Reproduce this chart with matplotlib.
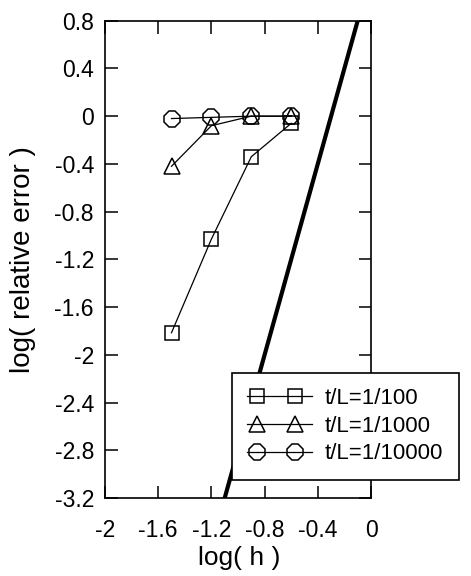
import matplotlib
matplotlib.use("Agg")
import matplotlib.pyplot as plt
from matplotlib.legend_handler import HandlerLine2D
from matplotlib.lines import Line2D

plt.rcParams['font.family'] = ['Liberation Sans', 'DejaVu Sans']

log_h = [-1.5, -1.2, -0.9, -0.6]
err_100 = [-1.815, -1.03, -0.34, -0.06]
err_1000 = [-0.42, -0.08, 0.0, 0.0]
err_10000 = [-0.02, -0.01, 0.0, 0.0]
ref_x = [-1.1, -0.1]
ref_y = [-3.2, 0.8]
xticks = [-2, -1.6, -1.2, -0.8, -0.4, 0]
yticks = [0.8, 0.4, 0, -0.4, -0.8, -1.2, -1.6, -2, -2.4, -2.8, -3.2]
labels = ['t/L=1/100', 't/L=1/1000', 't/L=1/10000']


class InsetMarkerHandler(HandlerLine2D):
    def create_artists(self, legend, orig_handle, xdescent, ydescent,
                       width, height, fontsize, trans):
        y = (height - ydescent) / 2
        line = Line2D([-xdescent, -xdescent + width], [y, y])
        self.update_prop(line, orig_handle, legend)
        line.set_marker('None')
        mk = Line2D([-xdescent + 0.45 * fontsize, -xdescent + width - 0.75 * fontsize], [y, y])
        self.update_prop(mk, orig_handle, legend)
        mk.set_linestyle('None')
        line.set_transform(trans)
        mk.set_transform(trans)
        return [line, mk]


fig = plt.figure(figsize=(4.71, 5.76), dpi=100)
ax = fig.add_axes([105/471, 1-498/576, 266/471, 477.3/576])

ax.plot(ref_x, ref_y, color='black', lw=3.0, zorder=2)
ax.plot(log_h, err_100, marker='s', ms=10, mfc='none', mec='black', mew=1.1,
        color='black', lw=0.9, label=labels[0], zorder=3)
ax.plot(log_h, err_1000, marker='^', ms=12, mfc='none', mec='black', mew=1.1,
        color='black', lw=0.9, label=labels[1], zorder=3)
ax.plot(log_h, err_10000, marker='8', ms=12.5, mfc='none', mec='black', mew=1.1,
        color='black', lw=0.9, label=labels[2], zorder=3)

ax.set_xlim(-2, 0)
ax.set_ylim(-3.2, 0.8)
ax.set_xticks(xticks)
ax.set_xticklabels([f'{v:g}' for v in xticks])
ax.set_yticks(yticks)
ax.set_yticklabels([f'{v:g}' for v in yticks])
ax.tick_params(direction='in', length=9, width=1.1, top=True, right=True,
               labelsize=16.5)
ax.tick_params(axis='x', pad=15)
ax.tick_params(axis='y', pad=8)
for s in ax.spines.values():
    s.set_linewidth(1.2)

ax.set_xlabel('log( h )', fontsize=19, va='top')
ax.xaxis.set_label_coords(0.504, -0.100)
ax.set_ylabel('log( relative error )', fontsize=20, va='bottom')
ax.yaxis.set_label_coords(-0.258, 0.5)

leg = ax.legend(loc='lower left', bbox_to_anchor=(0.476, 0.0377), borderaxespad=0,
                numpoints=2, fontsize=16, frameon=True, fancybox=False,
                handlelength=2.9, handletextpad=0.6, labelspacing=0.3,
                borderpad=0.7, handler_map={Line2D: InsetMarkerHandler()})
leg.get_frame().set_edgecolor('black')
leg.get_frame().set_linewidth(1.2)
leg.get_frame().set_alpha(1)
leg.set_zorder(5)

fig.savefig('out.png', dpi=100)
